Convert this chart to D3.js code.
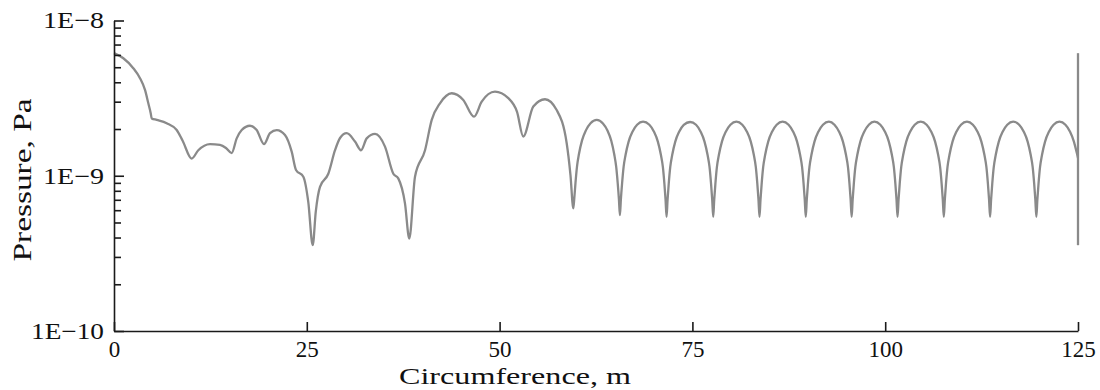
<!DOCTYPE html>
<html>
<head>
<meta charset="utf-8">
<script src="https://cdn.jsdelivr.net/npm/d3@7"></script>
<style>
  body { margin: 0; background: #fff; }
</style>
</head>
<body>
<svg id="canvas" width="1100" height="390"></svg>
<script>
// circumference (m), pressure (Pa)
let nearField = [
  [0, 6.16e-9], [1.21, 5.71e-9], [2.50, 4.93e-9], [3.37, 4.25e-9], [4.02, 3.57e-9],
  [4.45, 2.93e-9], [4.76, 2.53e-9], [4.89, 2.34e-9], [5.54, 2.29e-9], [6.83, 2.18e-9],
  [8.13, 1.97e-9], [8.90, 1.68e-9], [10.07, 1.29e-9], [10.93, 1.46e-9], [12.45, 1.60e-9],
  [13.74, 1.58e-9], [14.52, 1.51e-9], [15.26, 1.40e-9], [15.91, 1.74e-9], [16.56, 1.97e-9],
  [17.63, 2.10e-9], [18.50, 1.97e-9], [19.45, 1.60e-9], [20.23, 1.88e-9], [21.10, 1.97e-9],
  [22.17, 1.83e-9], [23.04, 1.43e-9], [23.60, 1.09e-9], [24.55, 9.86e-10], [25.19, 6.79e-10],
  [25.77, 3.57e-10], [26.16, 5.86e-10], [26.71, 8.49e-10], [27.79, 1.03e-9], [28.66, 1.46e-9],
  [29.31, 1.75e-9], [30.17, 1.88e-9], [31.25, 1.66e-9], [32.03, 1.46e-9], [32.77, 1.74e-9],
  [33.85, 1.86e-9], [35.14, 1.54e-9], [36.22, 1.03e-9], [36.86, 9.62e-10], [37.73, 6.64e-10],
  [38.29, 3.94e-10], [39.03, 9.86e-10], [40.33, 1.46e-9], [41.20, 2.29e-9], [42.27, 2.93e-9],
  [43.79, 3.40e-9], [45.29, 3.08e-9], [46.68, 2.40e-9], [47.68, 3.00e-9], [49.40, 3.48e-9],
  [51.13, 3.16e-9], [52.26, 2.58e-9], [53.07, 1.79e-9], [54.37, 2.79e-9], [55.89, 3.11e-9],
  [57.40, 2.65e-9], [58.70, 1.62e-9], [59.19, 1.01e-9], [59.56, 6.17e-10]
]

let arches = [
  [59.69, 7.2e-10], [59.84, 9.0e-10], [60.04, 1.15e-9], [60.29, 1.38e-9], [60.69, 1.69e-9], [61.19, 1.96e-9], [61.79, 2.18e-9], [62.6, 2.29e-9],
  [63.4, 2.17e-9], [64.0, 1.95e-9], [64.48, 1.68e-9], [64.87, 1.37e-9], [65.12, 1.14e-9], [65.32, 8.9e-10], [65.47, 7.1e-10], [65.6, 5.57e-10],
  [65.73, 7.1e-10], [65.88, 8.9e-10], [66.08, 1.14e-9], [66.33, 1.36e-9], [66.73, 1.66e-9], [67.23, 1.92e-9], [67.83, 2.13e-9], [68.6, 2.23e-9],
  [69.42, 2.13e-9], [70.02, 1.92e-9], [70.52, 1.66e-9], [70.92, 1.36e-9], [71.17, 1.14e-9], [71.37, 8.87e-10], [71.52, 7.0e-10], [71.65, 5.43e-10],
  [71.78, 7.0e-10], [71.93, 8.87e-10], [72.13, 1.14e-9], [72.38, 1.36e-9], [72.78, 1.66e-9], [73.28, 1.92e-9], [73.88, 2.13e-9], [74.7, 2.22e-9],
  [75.47, 2.13e-9], [76.07, 1.92e-9], [76.57, 1.66e-9], [76.97, 1.36e-9], [77.22, 1.14e-9], [77.42, 8.87e-10], [77.57, 7.0e-10], [77.7, 5.43e-10],
  [77.83, 7.0e-10], [77.98, 8.87e-10], [78.18, 1.14e-9], [78.43, 1.36e-9], [78.83, 1.66e-9], [79.33, 1.92e-9], [79.93, 2.13e-9], [80.7, 2.23e-9],
  [81.47, 2.13e-9], [82.07, 1.92e-9], [82.57, 1.66e-9], [82.97, 1.36e-9], [83.22, 1.14e-9], [83.42, 8.87e-10], [83.57, 7.0e-10], [83.7, 5.43e-10],
  [83.83, 7.0e-10], [83.98, 8.87e-10], [84.18, 1.14e-9], [84.43, 1.36e-9], [84.83, 1.66e-9], [85.33, 1.92e-9], [85.93, 2.13e-9], [86.7, 2.23e-9],
  [87.47, 2.13e-9], [88.07, 1.92e-9], [88.57, 1.66e-9], [88.97, 1.36e-9], [89.22, 1.14e-9], [89.42, 8.87e-10], [89.57, 7.0e-10], [89.7, 5.43e-10],
  [89.83, 7.0e-10], [89.98, 8.87e-10], [90.18, 1.14e-9], [90.43, 1.36e-9], [90.83, 1.66e-9], [91.33, 1.92e-9], [91.93, 2.13e-9], [92.7, 2.23e-9],
  [93.42, 2.13e-9], [94.02, 1.92e-9], [94.52, 1.66e-9], [94.92, 1.36e-9], [95.17, 1.14e-9], [95.37, 8.87e-10], [95.52, 7.0e-10], [95.65, 5.43e-10],
  [95.78, 7.0e-10], [95.93, 8.87e-10], [96.13, 1.14e-9], [96.38, 1.36e-9], [96.78, 1.66e-9], [97.28, 1.92e-9], [97.88, 2.13e-9], [98.6, 2.23e-9],
  [99.37, 2.13e-9], [99.97, 1.92e-9], [100.47, 1.66e-9], [100.87, 1.36e-9], [101.12, 1.14e-9], [101.32, 8.87e-10], [101.47, 7.0e-10], [101.6, 5.43e-10],
  [101.73, 7.0e-10], [101.88, 8.87e-10], [102.08, 1.14e-9], [102.33, 1.36e-9], [102.73, 1.66e-9], [103.23, 1.92e-9], [103.83, 2.13e-9], [104.6, 2.23e-9],
  [105.37, 2.13e-9], [105.97, 1.92e-9], [106.47, 1.66e-9], [106.87, 1.36e-9], [107.12, 1.14e-9], [107.32, 8.87e-10], [107.47, 7.0e-10], [107.6, 5.43e-10],
  [107.73, 7.0e-10], [107.88, 8.87e-10], [108.08, 1.14e-9], [108.33, 1.36e-9], [108.73, 1.66e-9], [109.23, 1.92e-9], [109.83, 2.13e-9], [110.6, 2.23e-9],
  [111.37, 2.13e-9], [111.97, 1.92e-9], [112.47, 1.66e-9], [112.87, 1.36e-9], [113.12, 1.14e-9], [113.32, 8.87e-10], [113.47, 7.0e-10], [113.6, 5.43e-10],
  [113.73, 7.0e-10], [113.88, 8.87e-10], [114.08, 1.14e-9], [114.33, 1.36e-9], [114.73, 1.66e-9], [115.23, 1.92e-9], [115.83, 2.13e-9], [116.6, 2.23e-9],
  [117.37, 2.13e-9], [117.97, 1.92e-9], [118.47, 1.66e-9], [118.87, 1.36e-9], [119.12, 1.14e-9], [119.32, 8.87e-10], [119.47, 7.0e-10], [119.6, 5.43e-10],
  [119.73, 7.0e-10], [119.88, 8.87e-10], [120.08, 1.14e-9], [120.33, 1.36e-9], [120.73, 1.66e-9], [121.23, 1.92e-9], [121.83, 2.13e-9], [122.6, 2.23e-9],
  [123.37, 2.13e-9], [123.97, 1.92e-9], [124.47, 1.66e-9], [124.85, 1.40e-9], [125, 1.30e-9]
]

let endSpike = [[125, 6.16e-9], [125, 3.57e-10]]

let xTicks = [0, 25, 50, 75, 100, 125]
let yMajor = [1e-10, 1e-9, 1e-8]
let yLabels = ['1E\u221210', '1E\u22129', '1E\u22128']
let yMinor = [2e-10, 3e-10, 4e-10, 5e-10, 6e-10, 7e-10, 8e-10, 9e-10,
              2e-9, 3e-9, 4e-9, 5e-9, 6e-9, 7e-9, 8e-9, 9e-9]

let serif = 'Liberation Serif'

let canvas = d3.select('#canvas')

let xScale = d3.scaleLinear().domain([0, 125]).range([114, 1078])
let yScale = d3.scaleLog().domain([1e-10, 1e-8]).range([331, 20.5])

let lineGen = d3.line()
  .x((d) => xScale(d[0]))
  .y((d) => yScale(d[1]))

// curve
canvas.append('path')
  .datum(nearField.concat(arches))
  .attr('d', lineGen.curve(d3.curveMonotoneX))
  .attr('fill', 'none')
  .attr('stroke', '#8a8a8a')
  .attr('stroke-width', 2.3)
  .attr('stroke-linejoin', 'round')

canvas.append('path')
  .datum(endSpike)
  .attr('d', d3.line().x((d) => xScale(d[0])).y((d) => yScale(d[1])))
  .attr('fill', 'none')
  .attr('stroke', '#8a8a8a')
  .attr('stroke-width', 2.3)

// y axis: minor ticks then major ticks with labels
canvas.append('g')
  .attr('transform', 'translate(114, 0)')
  .call(d3.axisLeft(yScale).tickValues(yMinor).tickSizeInner(-7).tickSizeOuter(0).tickFormat(''))
  .call((g) => g.select('.domain').remove())

let yAxis = canvas.append('g')
  .attr('transform', 'translate(114, 0)')
  .call(d3.axisLeft(yScale)
    .tickValues(yMajor)
    .tickSizeInner(-10)
    .tickSizeOuter(0)
    .tickPadding(10)
    .tickFormat((d, i) => yLabels[i]))

// x axis
canvas.append('g')
  .attr('transform', 'translate(0, 331)')
  .call(d3.axisBottom(xScale)
    .tickValues(xTicks)
    .tickSizeInner(-9)
    .tickSizeOuter(0)
    .tickPadding(10)
    .tickFormat(d3.format('d')))

canvas.selectAll('g')
  .attr('font-family', serif)
  .attr('font-size', 23)

canvas.selectAll('.tick line, .domain')
  .attr('stroke', '#1a1a1a')
  .attr('stroke-width', 1.6)

canvas.selectAll('.tick text')
  .attr('fill', '#111')

// the original face is wider than Times
yAxis.selectAll('.tick text')
  .attr('textLength', (d, i) => yLabels[i].length > 4 ? 73 : 61)
  .attr('lengthAdjust', 'spacingAndGlyphs')

// axis titles
canvas.append('text')
  .attr('x', 515)
  .attr('y', 384)
  .attr('text-anchor', 'middle')
  .attr('fill', '#111')
  .attr('font-family', serif)
  .attr('font-size', 24)
  .attr('textLength', 232)
  .attr('lengthAdjust', 'spacingAndGlyphs')
  .text('Circumference, m')

canvas.append('text')
  .attr('transform', 'translate(31, 180) rotate(-90)')
  .attr('text-anchor', 'middle')
  .attr('fill', '#111')
  .attr('font-family', serif)
  .attr('font-size', 25)
  .attr('textLength', 163)
  .attr('lengthAdjust', 'spacingAndGlyphs')
  .text('Pressure, Pa')
</script>
</body>
</html>
